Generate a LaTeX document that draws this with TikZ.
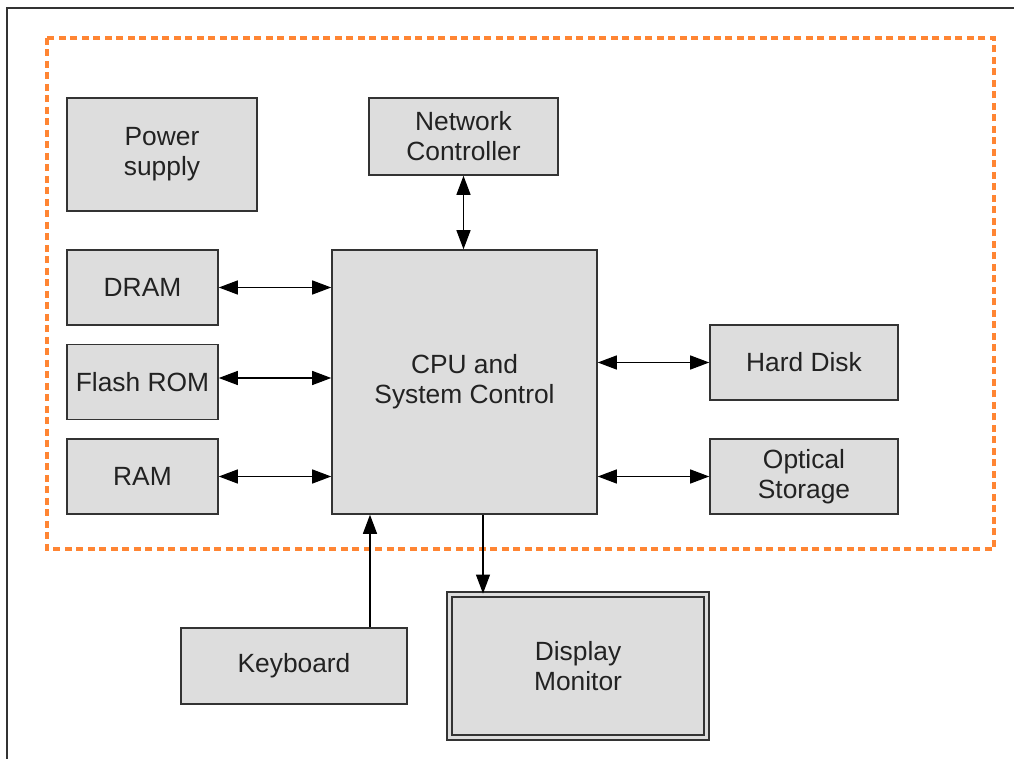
\documentclass[tikz,border=0pt]{standalone}
\usepackage{fontspec}
\setmainfont{Liberation Sans}
\usepackage{xcolor}
\usepackage{tikz}
\usetikzlibrary{arrows.meta,positioning,calc}
\definecolor{boxfill}{RGB}{221,221,221}
\definecolor{boxline}{RGB}{51,51,51}
\definecolor{zoneline}{RGB}{255,133,51}
\definecolor{labeltext}{RGB}{34,34,34}

\begin{document}
\begin{tikzpicture}[
    x=0.02cm, y=-0.02cm,
    unit/.style={rectangle, draw=boxline, fill=boxfill, line width=0.9pt, minimum width=3.78cm, minimum height=1.5cm, inner sep=2pt, align=center, text=labeltext, font=\fontsize{15}{17}\selectfont},
    link/.style={{Triangle[length=0.38cm, width=0.28cm]}-{Triangle[length=0.38cm, width=0.28cm]}, line width=0.7pt, color=black},
    arrow/.style={-{Triangle[length=0.38cm, width=0.28cm]}, line width=0.7pt, color=black}
]
\useasboundingbox (0,0) rectangle (1014,759);

% page frame and system boundary
\draw[line width=1.1pt, color=boxline] (7,759) -- (7,8) -- (1014,8);
\draw[zoneline, line width=2.1pt, dash pattern=on 0.14cm off 0.09cm] (47,38) rectangle (994,549);

\node[unit, minimum height=2.26cm, minimum width=3.8cm] (power) at (162,154.5) {Power\\supply};
\node[unit, minimum height=1.54cm] (net) at (463.5,136.5) {Network\\Controller};
\node[unit, minimum width=3.02cm] (dram) at (142.5,287.5) {DRAM};
\node[unit, minimum width=3.02cm] (flash) at (142.5,382) {Flash ROM};
\node[unit, minimum width=3.02cm] (ram) at (142.5,476.5) {RAM};
\node[unit, minimum width=5.3cm, minimum height=5.28cm] (cpu) at (464.5,382) {CPU and\\System Control};
\node[unit, minimum width=3.76cm] (disk) at (804,362.5) {Hard Disk};
\node[unit, minimum width=3.76cm] (optical) at (804,476.5) {Optical\\Storage};
\node[unit, minimum width=4.52cm, minimum height=1.52cm] (kbd) at (294,666) {Keyboard};
\node[unit, double=boxfill, double distance=0.07cm, line width=1.1pt, minimum width=5.14cm, minimum height=2.86cm] (disp) at (578,666) {Display\\Monitor};

\draw[link] (net.south) -- (net.south |- cpu.north);
\draw[link] (dram.east) -- (dram.east -| cpu.west);
\draw[link] ([yshift=0.08cm]flash.east) -- ([yshift=0.08cm]flash.east -| cpu.west);
\draw[link] (ram.east) -- (ram.east -| cpu.west);
\draw[link] (cpu.east |- disk.west) -- (disk.west);
\draw[link] (cpu.east |- optical.west) -- (optical.west);
\draw[arrow] ([xshift=1.52cm]kbd.north) -- ([xshift=1.52cm]kbd.north |- cpu.south);
\draw[arrow] ([xshift=0.37cm]cpu.south) -- ([xshift=0.37cm]cpu.south |- disp.north);
\end{tikzpicture}
\end{document}
